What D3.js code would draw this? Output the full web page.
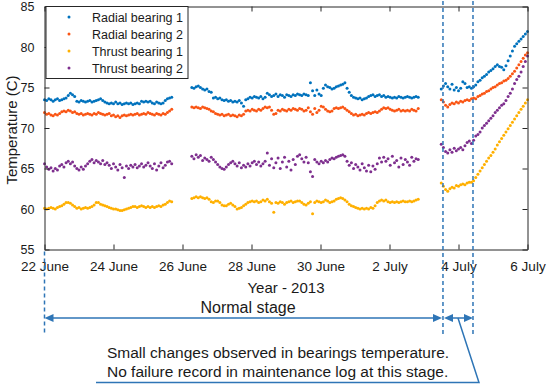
<!DOCTYPE html>
<html><head><meta charset="utf-8">
<script src="https://cdn.jsdelivr.net/npm/d3@7"></script>
<style>
body{margin:0;background:#fff}
svg{display:block;font-family:"Liberation Sans",Arial,sans-serif}
</style>
</head><body>
<svg id="chart" width="550" height="385"></svg>
<script>
// ---------- data ----------
const seriesNames = ["Radial bearing 1","Radial bearing 2","Thrust bearing 1","Thrust bearing 2"];
const seriesColors = ["#0072BD","#FA5514","#FFB000","#7E2F8E"];
const xTickDays = [0,2,4,6,8,10,12,14];
const xTickLabels = ["22 June","24 June","26 June","28 June","30 June","2 July","4 July","6 July"];
const yTickValues = [55,60,65,70,75,80,85];
const segmentStartDays = [0, 4.27, 11.5];   // days after 22 June
const sampleStepDays = 0.0625;               // 1.5 h sampling
const stageBoundaryDays = [0, 11.55, 12.42];
const xTitle = "Year - 2013";
const yTitle = "Temperature (C)";
const stageLabel = "Normal stage";
const noteLines = ["Small changes observed in bearings temperature.","No failure record in maintenance log at this stage."];

const radial1Seg1 = [73.5,73.4,73.6,73.5,73.3,73.5,73.6,73.4,73.5,73.6,
 73.7,74.0,74.3,74.1,73.9,73.3,73.2,73.4,73.3,73.2,
 73.3,73.4,73.2,73.3,73.4,73.5,73.6,73.4,73.2,73.1,
 73.0,73.1,73.0,73.2,73.0,73.1,72.9,73.0,73.1,73.0,
 73.1,72.9,73.0,73.1,73.0,73.3,73.2,73.3,73.2,73.3,
 73.1,73.0,73.2,73.1,73.0,73.1,73.4,73.6,73.7,73.8];
const radial1Seg2 = [75.0,74.9,75.1,75.2,75.0,74.8,74.7,74.8,74.5,74.4,
 73.7,73.8,73.6,73.7,73.5,73.4,73.5,73.3,73.4,73.2,
 73.3,73.2,73.4,73.1,72.7,73.5,73.6,73.8,73.7,73.9,
 73.8,73.7,73.9,73.6,73.8,74.3,74.1,73.9,74.0,74.2,
 73.9,74.1,74.0,73.8,74.1,74.0,73.9,74.1,74.0,74.2,
 74.1,74.0,74.2,74.1,74.0,75.6,74.6,74.0,74.7,74.2,
 74.0,74.9,75.3,75.1,75.0,74.8,74.9,75.1,75.2,75.3,
 75.4,75.6,74.9,74.4,74.0,73.8,73.7,73.6,73.7,73.5,
 73.6,73.7,73.9,74.0,74.1,73.9,74.0,74.1,73.9,74.0,
 73.8,73.9,73.8,73.7,73.8,73.7,73.9,73.8,73.7,73.8,
 73.9,73.8,73.7,73.8,73.9,73.8];
const radial1Seg3 = [74.8,75.2,75.5,75.1,74.8,75.4,74.7,75.0,74.6,74.9,
 75.7,75.5,75.0,75.1,74.9,75.1,75.3,75.7,75.9,76.2,
 76.4,76.6,76.9,77.1,77.3,77.6,77.8,77.6,77.5,77.2,
 77.7,78.3,78.9,79.5,80.1,80.4,80.7,81.0,81.3,81.6,
 81.9];

const radial2Seg1 = [71.9,71.7,71.8,71.6,71.5,71.7,71.6,71.8,72.0,72.1,
 72.0,72.2,72.1,71.9,72.0,71.8,71.7,71.8,71.6,71.7,
 71.8,71.7,71.6,71.8,71.7,71.9,71.8,71.7,71.6,71.7,
 71.8,71.5,71.6,71.4,71.5,71.3,71.5,71.6,71.5,71.6,
 71.7,71.6,71.7,71.8,71.6,71.7,71.8,71.7,71.9,71.8,
 71.7,71.6,71.8,71.7,71.6,71.8,71.7,71.9,72.1,72.3];
const radial2Seg2 = [72.6,72.5,72.6,72.5,72.4,72.6,72.5,72.4,72.3,72.1,
 72.0,71.8,71.7,71.6,71.7,71.5,71.6,71.7,71.5,71.6,
 71.5,71.4,71.6,71.5,71.7,72.1,72.2,72.1,72.3,72.2,
 72.1,72.3,72.2,72.4,72.6,72.5,72.6,72.2,71.7,71.8,
 72.2,72.1,72.3,72.2,72.1,72.3,72.2,72.4,72.3,72.2,
 72.4,72.3,72.1,72.2,72.5,72.0,71.7,72.4,71.9,72.2,
 72.7,72.6,72.3,72.1,72.0,72.1,72.4,72.5,72.4,72.5,
 72.6,72.4,72.2,72.0,71.8,71.6,71.7,71.5,71.6,71.7,
 71.6,71.8,71.9,71.8,71.9,72.0,71.9,72.1,72.3,72.5,
 72.4,72.5,72.3,72.2,72.1,72.2,72.3,72.1,72.2,72.1,
 72.2,72.1,72.3,72.2,72.1,72.4];
const radial2Seg3 = [73.5,73.2,72.8,72.6,72.9,73.1,73.0,73.2,73.1,73.3,
 73.2,73.4,73.5,73.4,73.6,73.7,73.6,73.9,74.0,74.2,
 74.3,74.5,74.6,74.8,75.0,75.1,75.3,75.5,75.6,75.8,
 75.9,76.1,76.4,76.7,77.0,77.4,77.8,78.2,78.6,79.0,
 79.3];

const thrust1Seg1 = [60.1,60.0,60.1,60.2,60.1,60.0,60.2,60.3,60.4,60.6,
 60.8,60.8,60.7,60.5,60.3,60.1,60.2,60.0,60.1,60.2,
 60.1,60.2,60.3,60.5,60.8,60.8,60.6,60.5,60.4,60.3,
 60.2,60.1,60.0,60.0,59.9,59.8,59.8,59.9,60.0,60.1,
 60.2,60.3,60.3,60.2,60.3,60.4,60.3,60.2,60.3,60.2,
 60.3,60.2,60.3,60.4,60.3,60.5,60.6,60.8,61.0,60.9];
const thrust1Seg2 = [61.3,61.4,61.5,61.4,61.5,61.4,61.3,61.4,61.2,60.9,
 60.8,61.0,61.0,60.8,60.5,60.4,60.4,60.6,60.7,60.5,
 60.3,60.0,60.1,60.2,60.4,60.6,60.8,60.9,61.0,60.9,
 61.0,60.8,60.9,61.1,61.0,61.2,60.9,60.7,59.6,60.8,
 60.7,60.9,60.8,60.6,60.8,60.9,61.0,60.8,60.9,61.0,
 61.0,60.8,60.6,60.5,60.7,60.9,59.4,60.8,61.0,60.9,
 60.8,60.9,61.1,61.0,60.8,60.9,61.0,61.2,61.3,61.4,
 61.3,61.1,60.9,60.6,60.4,60.3,60.2,60.1,60.0,60.1,
 60.0,60.1,60.0,60.2,60.1,60.4,60.8,61.0,61.1,61.0,
 61.1,60.9,60.8,60.9,60.8,60.9,60.8,60.9,61.0,60.9,
 60.9,61.0,60.9,61.0,61.1,61.2];
const thrust1Seg3 = [63.2,62.8,62.4,62.2,62.5,62.7,62.6,62.9,62.8,63.0,
 63.1,63.0,63.2,63.3,63.3,63.5,63.9,64.3,64.7,65.1,
 65.5,65.9,66.3,66.6,67.0,67.4,67.9,68.3,68.7,69.1,
 69.5,69.9,70.3,70.7,71.1,71.5,71.9,72.3,72.7,73.1,
 73.5];

const thrust2Seg1 = [65.6,65.2,64.9,65.1,64.7,65.0,64.8,65.3,65.5,65.2,
 65.7,65.9,65.6,65.8,65.3,65.0,64.8,65.2,64.9,65.3,
 65.6,65.9,66.1,65.7,66.0,65.8,65.6,66.0,65.5,65.7,
 65.4,65.0,65.6,65.2,64.8,65.5,65.1,63.9,65.3,65.0,
 65.4,65.2,65.5,65.1,65.3,65.6,65.2,65.4,65.7,65.3,
 65.0,65.6,64.8,65.3,65.7,65.1,65.4,65.8,65.9,65.6];
const thrust2Seg2 = [66.5,66.2,66.7,66.4,66.6,66.0,66.3,66.1,65.9,66.4,
 66.1,65.8,65.5,65.2,65.0,64.9,65.2,65.5,65.7,65.9,
 65.6,65.3,65.7,65.1,65.4,65.2,65.6,65.3,65.7,65.9,
 65.5,65.8,65.3,65.6,65.9,66.9,65.4,66.2,65.1,65.7,
 66.3,65.0,65.8,66.4,65.2,65.9,64.8,66.1,65.5,66.5,
 66.7,66.2,65.8,66.4,65.7,64.6,64.0,66.1,65.8,65.6,
 65.9,65.7,66.0,65.8,66.1,66.3,66.2,66.4,66.5,66.6,
 66.7,66.5,65.9,65.4,65.7,65.0,65.5,65.2,64.8,65.6,
 65.1,64.7,65.4,64.6,65.3,64.9,65.6,66.3,65.8,66.4,
 65.9,66.2,65.4,66.5,65.7,66.0,65.2,66.3,65.5,66.1,
 65.8,65.4,66.4,65.9,66.2,66.1];
const thrust2Seg3 = [68.0,67.6,67.1,66.9,67.3,67.0,67.5,67.2,67.4,67.6,
 67.3,67.8,68.2,68.4,68.1,68.5,69.0,69.2,69.5,70.0,
 70.3,70.6,70.9,71.2,71.5,71.9,72.2,72.5,72.8,73.0,
 73.4,73.9,74.3,74.8,75.5,76.0,76.4,76.9,77.6,78.2,
 78.9];

// ---------- build ----------
function toPoints(segs){
  return segs.flatMap((vals, s) => vals.map((v, i) => ({day: segmentStartDays[s] + i * sampleStepDays, temp: v})));
}
const series = [
  {name: seriesNames[0], color: seriesColors[0], pts: toPoints([radial1Seg1, radial1Seg2, radial1Seg3])},
  {name: seriesNames[1], color: seriesColors[1], pts: toPoints([radial2Seg1, radial2Seg2, radial2Seg3])},
  {name: seriesNames[2], color: seriesColors[2], pts: toPoints([thrust1Seg1, thrust1Seg2, thrust1Seg3])},
  {name: seriesNames[3], color: seriesColors[3], pts: toPoints([thrust2Seg1, thrust2Seg2, thrust2Seg3])}
];

const svg = d3.select("#chart");
const L = 44.5, R = 527.5, T = 6.5, B = 249.5;
const x = d3.scaleLinear().domain([0, 14]).range([L, R]);
const y = d3.scaleLinear().domain([55, 85]).range([B, T]);
const axisColor = "#262626";
const annColor = "#2E75B6";

// data points
series.forEach(s => {
  svg.append("g").selectAll("circle").data(s.pts).join("circle")
    .attr("cx", d => x(d.day)).attr("cy", d => y(d.temp))
    .attr("r", 1.5).attr("fill", s.color);
});

// axes (MATLAB-like box with inward ticks)
const tickLen = 5;
const gB = svg.append("g").attr("transform", `translate(0,${B})`)
  .call(d3.axisBottom(x).tickValues(xTickDays).tickSizeInner(-tickLen).tickSizeOuter(0)
    .tickPadding(12).tickFormat((d, i) => xTickLabels[i]));
const gT = svg.append("g").attr("transform", `translate(0,${T})`)
  .call(d3.axisTop(x).tickValues(xTickDays).tickSizeInner(-tickLen).tickSizeOuter(0).tickFormat(""));
const gL = svg.append("g").attr("transform", `translate(${L},0)`)
  .call(d3.axisLeft(y).tickValues(yTickValues).tickSizeInner(-tickLen).tickSizeOuter(0).tickPadding(10));
const gR = svg.append("g").attr("transform", `translate(${R},0)`)
  .call(d3.axisRight(y).tickValues(yTickValues).tickSizeInner(-tickLen).tickSizeOuter(0).tickFormat(""));
[gB, gT, gL, gR].forEach(g => {
  g.select(".domain").attr("stroke", axisColor);
  g.selectAll(".tick line").attr("stroke", axisColor);
  g.selectAll("text").attr("fill", "#1a1a1a").attr("font-family", "Liberation Sans, Arial, sans-serif");
});
gB.selectAll("text").attr("font-size", 13.5);
gL.selectAll("text").attr("font-size", 12.5);

// axis titles
svg.append("text").attr("x", (L + R) / 2).attr("y", 293).attr("text-anchor", "middle")
  .attr("font-size", 15).attr("fill", "#1a1a1a").text(xTitle);
svg.append("text").attr("transform", `translate(17,${(T + B) / 2 + 2}) rotate(-90)`)
  .attr("text-anchor", "middle").attr("font-size", 15).attr("fill", "#1a1a1a").text(yTitle);

// legend
const lg = svg.append("g");
lg.append("rect").attr("x", 46).attr("y", T).attr("width", 142).attr("height", 72)
  .attr("fill", "#fff").attr("stroke", axisColor).attr("stroke-width", 1);
series.forEach((s, i) => {
  const yy = 17 + i * 17;
  lg.append("circle").attr("cx", 69).attr("cy", yy).attr("r", 1.5).attr("fill", s.color);
  lg.append("text").attr("x", 183).attr("y", yy + 4.5).attr("text-anchor", "end")
    .attr("font-size", 12.5).attr("fill", "#1a1a1a").text(s.name);
});

// stage boundaries (dashed)
const xb = stageBoundaryDays.map(d => x(d));
svg.append("line").attr("x1", xb[0]).attr("x2", xb[0]).attr("y1", B + 2).attr("y2", 335)
  .attr("stroke", annColor).attr("stroke-width", 1.5).attr("stroke-dasharray", "4,3");
[xb[1], xb[2]].forEach(xx => {
  svg.append("line").attr("x1", xx).attr("x2", xx).attr("y1", 1).attr("y2", 335)
    .attr("stroke", annColor).attr("stroke-width", 1.5).attr("stroke-dasharray", "4,3");
});

// arrows
const ay = 318;
function arrowHead(tipX, dir) { // dir = +1 pointing right, -1 pointing left
  const len = 9, hw = 4;
  svg.append("path").attr("d", `M${tipX},${ay} L${tipX - dir * len},${ay - hw} L${tipX - dir * len},${ay + hw} Z`)
    .attr("fill", annColor);
}
svg.append("line").attr("x1", xb[0] + 4).attr("x2", xb[1] - 4).attr("y1", ay).attr("y2", ay)
  .attr("stroke", annColor).attr("stroke-width", 1.5);
arrowHead(xb[0], -1); arrowHead(xb[1] - 1, 1);
svg.append("line").attr("x1", xb[1] + 4).attr("x2", xb[2] - 4).attr("y1", ay).attr("y2", ay)
  .attr("stroke", annColor).attr("stroke-width", 1.5);
arrowHead(xb[1] + 1, -1); arrowHead(xb[2], 1);

svg.append("text").attr("x", 248).attr("y", 313).attr("text-anchor", "middle")
  .attr("font-size", 16).attr("fill", "#1a1a1a").text(stageLabel);

// callout
const mid = (xb[1] + xb[2]) / 2;
svg.append("path").attr("d", `M${mid},${ay} L${mid + 21},382.5 L96,382.5`)
  .attr("fill", "none").attr("stroke", annColor).attr("stroke-width", 1.5);
noteLines.forEach((t, i) => {
  svg.append("text").attr("x", 107).attr("y", 358 + i * 19).attr("font-size", 15.5)
    .attr("fill", "#1a1a1a").text(t);
});
</script>
</body></html>
